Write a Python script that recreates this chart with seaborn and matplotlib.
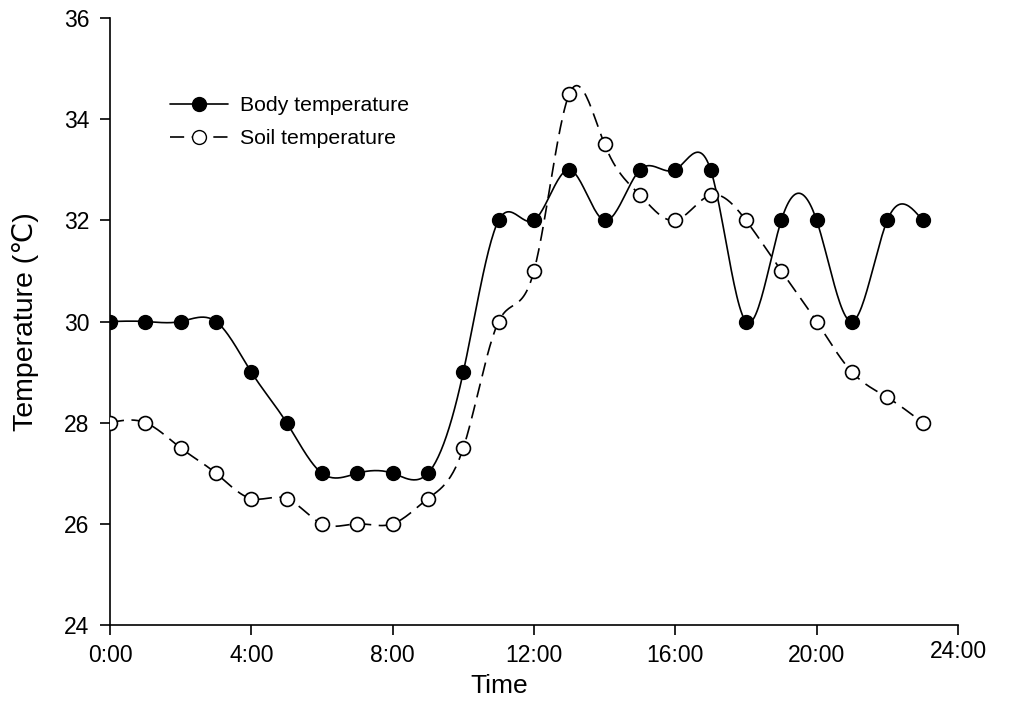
import numpy as np
import pandas as pd
import matplotlib
matplotlib.use("Agg")
import matplotlib.pyplot as plt
import matplotlib.transforms as mtransforms
from matplotlib.lines import Line2D
import seaborn as sns

# Hourly readings
hours = list(range(24))
body_temp = [30, 30, 30, 30, 29, 28, 27, 27, 27, 27, 29, 32,
             32, 33, 32, 33, 33, 33, 30, 32, 32, 30, 32, 32]
soil_temp = [28, 28, 27.5, 27, 26.5, 26.5, 26, 26, 26, 26.5, 27.5, 30,
             31, 34.5, 33.5, 32.5, 32, 32.5, 32, 31, 30, 29, 28.5, 28]

x_ticks = [0, 4, 8, 12, 16, 20, 24]
x_tick_labels = ["0:00", "4:00", "8:00", "12:00", "16:00", "20:00", "24:00"]
y_ticks = [24, 26, 28, 30, 32, 34, 36]


def natural_spline(x, y, n=600):
    """Natural cubic spline through (x, y), sampled densely for a smooth line."""
    x = np.asarray(x, float)
    y = np.asarray(y, float)
    k = len(x)
    h = np.diff(x)
    A = np.zeros((k, k))
    b = np.zeros(k)
    A[0, 0] = A[-1, -1] = 1.0
    for i in range(1, k - 1):
        A[i, i - 1] = h[i - 1]
        A[i, i] = 2 * (h[i - 1] + h[i])
        A[i, i + 1] = h[i]
        b[i] = 6 * ((y[i + 1] - y[i]) / h[i] - (y[i] - y[i - 1]) / h[i - 1])
    m = np.linalg.solve(A, b)
    xs = np.linspace(x[0], x[-1], n)
    idx = np.clip(np.searchsorted(x, xs) - 1, 0, k - 2)
    x0, x1 = x[idx], x[idx + 1]
    y0, y1 = y[idx], y[idx + 1]
    m0, m1 = m[idx], m[idx + 1]
    hh = x1 - x0
    t0 = x1 - xs
    t1 = xs - x0
    ys = (m0 * t0 ** 3 / (6 * hh) + m1 * t1 ** 3 / (6 * hh)
          + (y0 / hh - m0 * hh / 6) * t0 + (y1 / hh - m1 * hh / 6) * t1)
    return xs, ys


sns.set_style("ticks")
plt.rcParams["font.family"] = ["Liberation Sans", "DejaVu Sans"]
plt.rcParams["text.color"] = "black"
plt.rcParams["axes.labelcolor"] = "black"

fig = plt.figure(figsize=(10.24, 7.06), dpi=100)
ax = fig.add_axes([0.1074, 0.1147, 0.8281, 0.8598])

bx, by = natural_spline(hours, body_temp)
sx, sy = natural_spline(hours, soil_temp)
body_curve = pd.DataFrame({"t": bx, "temp": by})
soil_curve = pd.DataFrame({"t": sx, "temp": sy})
body_pts = pd.DataFrame({"t": hours, "temp": body_temp})
soil_pts = pd.DataFrame({"t": hours, "temp": soil_temp})

lw = 1.2
dash = (8.5, 4.5)
sns.lineplot(data=body_curve, x="t", y="temp", color="black", linewidth=lw,
             ax=ax, legend=False)
sns.lineplot(data=soil_curve, x="t", y="temp", color="black", linewidth=lw,
             ax=ax, legend=False)
ax.lines[-1].set_dashes(dash)

ms = 10
sns.scatterplot(data=body_pts, x="t", y="temp", color="black",
                edgecolor="black", s=ms ** 2, linewidth=1.0,
                ax=ax, legend=False, zorder=3)
sns.scatterplot(data=soil_pts, x="t", y="temp", facecolor="white",
                edgecolor="black", s=ms ** 2, linewidth=1.2,
                ax=ax, legend=False, zorder=3)

ax.set_xlim(0, 24)
ax.set_ylim(24, 36)
ax.set_xticks(x_ticks)
ax.set_xticklabels(x_tick_labels)
ax.set_yticks(y_ticks)
ax.tick_params(direction="out", length=7, width=1.2, labelsize=16.5,
               colors="black")
ax.tick_params(axis="x", pad=7)
ax.tick_params(axis="y", pad=8)
for side in ("top", "right"):
    ax.spines[side].set_visible(False)
for side in ("left", "bottom"):
    ax.spines[side].set_linewidth(1.2)
    ax.spines[side].set_color("black")

# the last hour label sits slightly higher
last = ax.get_xticklabels()[-1]
last.set_transform(last.get_transform() +
                   mtransforms.ScaledTranslation(0, 3 / 72, fig.dpi_scale_trans))

ax.set_xlabel("Time", fontsize=19)
ax.xaxis.set_label_coords((499 - 110) / 848, -0.081)
ax.set_ylabel("Temperature (℃)", fontsize=20.5, labelpad=18)

handles = [
    Line2D([], [], color="black", linewidth=lw, marker="o", markersize=ms,
           markerfacecolor="black", markeredgecolor="black"),
    Line2D([], [], color="black", linewidth=lw, marker="o", markersize=ms,
           markerfacecolor="white", markeredgecolor="black", dashes=dash),
]
ax.legend(handles, ["Body temperature", "Soil temperature"], frameon=False,
          fontsize=15.3, loc="upper left", bbox_to_anchor=(0.0708, 0.871),
          borderpad=0, borderaxespad=0,
          handlelength=2.72, handletextpad=0.57, labelspacing=0.66)

fig.savefig("out.png", dpi=100)
